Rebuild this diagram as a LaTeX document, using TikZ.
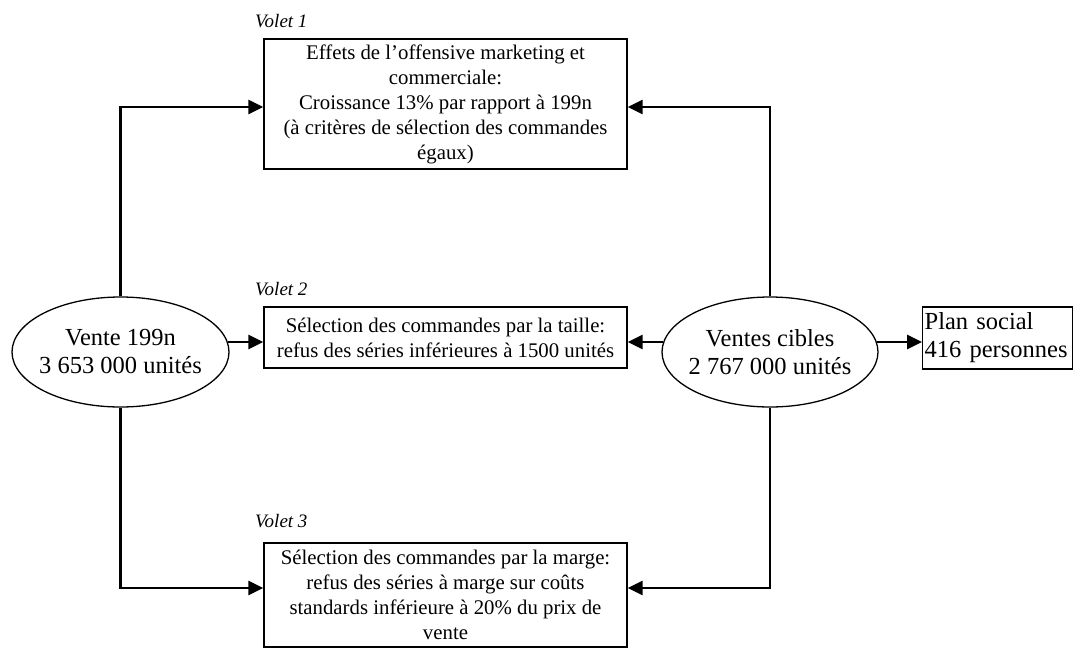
\documentclass[tikz,border=0pt]{standalone}
\usepackage{fontspec}
\setmainfont{Liberation Serif}
\usetikzlibrary{shapes.geometric,arrows.meta,calc}
\tikzset{
  box/.style={draw,line width=1.3pt,rectangle,inner sep=0pt,align=center,font=\fontsize{20.8}{25}\selectfont},
  oval/.style={draw,line width=1.3pt,ellipse,inner sep=-20pt,align=center,font=\fontsize{24.5}{28}\selectfont},
  volet/.style={anchor=west,inner sep=0pt,font=\fontsize{19}{21}\selectfont\itshape},
  link/.style={line width=2.6pt,-{Triangle[length=15pt,width=14pt]}}
}
\begin{document}
\begin{tikzpicture}[x=1pt,y=-1pt]
\useasboundingbox (0,0) rectangle (1073,648);
\node[box,minimum width=363,minimum height=130] (b1) at (445.5,104)
  {Effets de l’offensive marketing et\\commerciale:\\Croissance 13\% par rapport à 199n\\(à critères de sélection des commandes\\égaux)};
\node[box,minimum width=363,minimum height=61] (b2) at (445.5,337.5)
  {Sélection des commandes par la taille:\\refus des séries inférieures à 1500 unités};
\node[box,minimum width=363,minimum height=104] (b3) at (445.5,595)
  {Sélection des commandes par la marge:\\refus des séries à marge sur coûts\\standards inférieure à 20\% du prix de\\vente};
\node[box,align=left,anchor=west,minimum width=150,minimum height=62,text width=146,inner xsep=2pt,font=\fontsize{24.5}{28}\selectfont] (ps) at (922,338)
  {Plan social\\416 personnes};
\node[oval,minimum width=217,minimum height=110] (e1) at (120.5,352) {Vente 199n\\3 653 000 unités};
\node[oval,minimum width=216,minimum height=110] (e2) at (770,352) {Ventes cibles\\2 767 000 unités};
\node[volet] (v1) at (255,21) {Volet 1};
\node[volet] (v2) at (255,289) {Volet 2};
\node[volet] (v3) at (255,521) {Volet 3};
\coordinate (b1w) at ($(b1.west)+(0,3)$);
\coordinate (b1e) at ($(b1.east)+(0,3)$);
\coordinate (b3w) at ($(b3.west)+(0,-7)$);
\coordinate (b3e) at ($(b3.east)+(0,-7)$);
\coordinate (b2w) at ($(b2.west)+(0,4.5)$);
\coordinate (b2e) at ($(b2.east)+(0,4.5)$);
\coordinate (e1e) at ($(e1.east)+(-2,-10)$);
\coordinate (e2w) at ($(e2.west)+(2,-10)$);
\coordinate (e2e) at ($(e2.east)+(-2,-10)$);
\coordinate (psw) at ($(ps.west)+(0,4)$);
\draw[link] (e1.north) |- (b1w);
\draw[link] (e1.south) |- (b3w);
\draw[link] (e1e) -- (b2w);
\draw[link] (e2.north) |- (b1e);
\draw[link] (e2.south) |- (b3e);
\draw[link] (e2w) -- (b2e);
\draw[link] (e2e) -- (psw);
\end{tikzpicture}
\end{document}
